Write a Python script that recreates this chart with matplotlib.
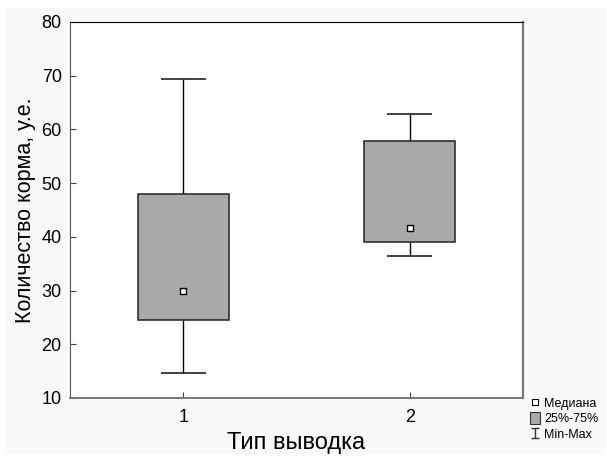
import numpy as np
import matplotlib.pyplot as plt
from matplotlib.lines import Line2D
from matplotlib.patches import Patch, Rectangle
from matplotlib.path import Path

plt.rcParams['font.family'] = ['Liberation Sans', 'DejaVu Sans']

# Summary statistics per group
groups = [1, 2]
medians = [29.9, 41.7]
q1 = [24.6, 39.1]
q3 = [48.0, 57.9]
mins = [14.6, 36.5]
maxs = [69.3, 62.8]

box_w = 0.4
cap_w = 0.2

fig = plt.figure(figsize=(6.07, 4.57), dpi=100, facecolor='white')
# light grey page behind the plot
fig.patches.append(Rectangle((5 / 607, 3 / 457), 600 / 607, 446 / 457,
                             transform=fig.transFigure, facecolor='#f9f9f9',
                             edgecolor='none', zorder=-10))
ax = fig.add_axes([70 / 607, 1 - 398 / 457, 453 / 607, 376 / 457])
ax.set_facecolor('white')

x = np.array(groups, dtype=float)
lo = np.array(q1)
hi = np.array(q3)

# whiskers and caps
ax.vlines(x, mins, lo, color='black', lw=1, zorder=1)
ax.vlines(x, hi, maxs, color='black', lw=1, zorder=1)
ax.hlines(mins, x - cap_w / 2, x + cap_w / 2, color='#222222', lw=1.2, zorder=1)
ax.hlines(maxs, x - cap_w / 2, x + cap_w / 2, color='#222222', lw=1.2, zorder=1)

# interquartile boxes
ax.bar(x, hi - lo, bottom=lo, width=box_w, color='#a9a9a9',
       edgecolor='#222222', linewidth=1.1, zorder=2)

# medians
ax.scatter(x, medians, marker='s', s=22, facecolor='white',
           edgecolor='black', linewidth=1, zorder=3)

ax.set_xlim(0.5, 2.5)
ax.set_ylim(10, 80)
ax.set_xticks(groups)
ax.set_yticks(np.arange(10, 81, 10))
ax.tick_params(direction='in', labelsize=13, length=4, width=0.8, colors='#444444',
               labelcolor='black')
ax.tick_params(axis='y', pad=6)
ax.tick_params(axis='x', pad=8)

ax.spines['top'].set_color('black')
ax.spines['left'].set_color('#555555')
ax.spines['right'].set_color('#777777')
ax.spines['bottom'].set_color('#777777')
ax.spines['right'].set_linewidth(1.6)
ax.spines['bottom'].set_linewidth(1.4)

ax.set_xlabel('Тип выводка', fontsize=17, labelpad=4)
ax.set_ylabel('Количество корма, у.е.', fontsize=15.5, labelpad=4)

# legend marker shaped like a min-max whisker
ibeam = Path([(-0.8, 1), (0.8, 1), (0, 1), (0, -1), (-0.8, -1), (0.8, -1)],
             [Path.MOVETO, Path.LINETO, Path.MOVETO, Path.LINETO,
              Path.MOVETO, Path.LINETO])
handles = [
    Line2D([], [], ls='none', marker='s', markersize=5, markerfacecolor='white',
           markeredgecolor='black', markeredgewidth=0.8),
    Patch(facecolor='#a9a9a9', edgecolor='#333333', linewidth=0.8),
    Line2D([], [], ls='none', marker=ibeam, markersize=7, markeredgecolor='#333333',
           markeredgewidth=1),
]
fig.legend(handles, ['Медиана', '25%-75%', 'Min-Max'], loc='upper left',
           bbox_to_anchor=(530 / 607, 1 - 397 / 457), frameon=False, fontsize=9,
           handlelength=0.8, handleheight=1.0, handletextpad=0.35,
           labelspacing=0.2, borderpad=0, borderaxespad=0)

fig.savefig('out.png', dpi=100, facecolor=fig.get_facecolor())
